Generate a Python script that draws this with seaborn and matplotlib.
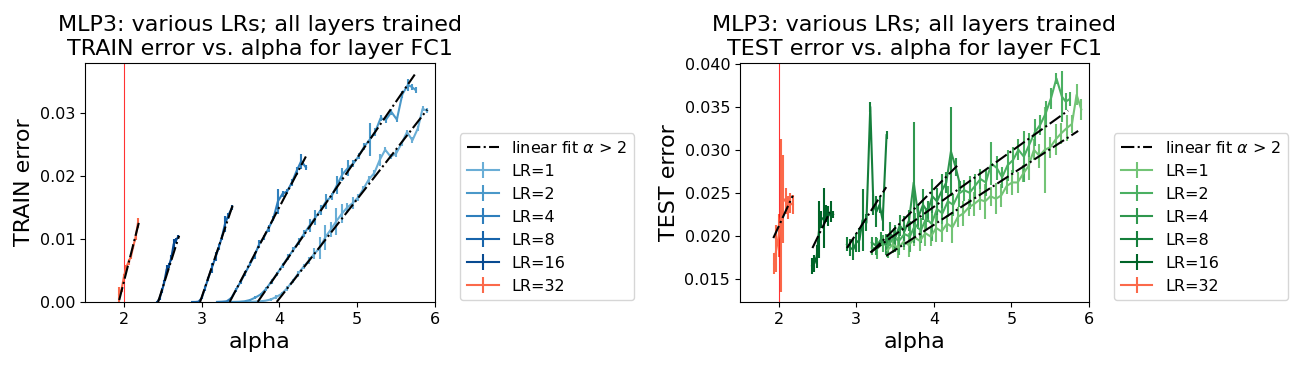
import numpy as np
import matplotlib
matplotlib.use("Agg")
import matplotlib.pyplot as plt
import seaborn as sns

# learning rates, one run per LR
lrs = [1, 2, 4, 8, 16, 32]

# alpha values (same runs in both panels)
alpha_lr1 = [3.40, 3.47, 3.54, 3.61, 3.68, 3.75, 3.82, 3.89,
             3.96, 4.03, 4.10, 4.17, 4.24, 4.31, 4.38, 4.45,
             4.52, 4.59, 4.66, 4.73, 4.80, 4.87, 4.94, 5.01,
             5.08, 5.15, 5.22, 5.29, 5.36, 5.43, 5.50, 5.57,
             5.64, 5.71, 5.78, 5.84, 5.90]
alpha_lr2 = [3.20, 3.27, 3.34, 3.41, 3.48, 3.55, 3.62, 3.69,
             3.76, 3.83, 3.90, 3.97, 4.04, 4.11, 4.18, 4.25,
             4.32, 4.39, 4.46, 4.53, 4.60, 4.67, 4.74, 4.81,
             4.88, 4.95, 5.02, 5.09, 5.16, 5.23, 5.30, 5.37,
             5.44, 5.51, 5.58, 5.65, 5.70, 5.75]
alpha_lr4 = [3.20, 3.26, 3.32, 3.38, 3.44, 3.50, 3.56, 3.62, 3.68, 3.74,
             3.80, 3.86, 3.92, 3.98, 4.04, 4.10, 4.16, 4.22, 4.28, 4.34]
alpha_lr8 = [2.88, 2.92, 2.96, 3.00, 3.04, 3.08, 3.13, 3.18, 3.22, 3.26,
             3.30, 3.34, 3.39]
alpha_lr16 = [2.43, 2.46, 2.49, 2.52, 2.55, 2.58, 2.61, 2.64, 2.67, 2.70]
alpha_lr32 = [1.94, 1.97, 2.00, 2.03, 2.06, 2.09, 2.12, 2.15, 2.18]

# TRAIN error (mean, std)
train_lr1 = [0.0, 0.0, 0.0, 0.00002, 0.00005, 0.0001, 0.0002, 0.0004,
             0.0008, 0.0013, 0.0022, 0.0033, 0.0045, 0.0056, 0.0066, 0.0077,
             0.0086, 0.0103, 0.0115, 0.0128, 0.0140, 0.0150, 0.0157, 0.0166,
             0.0180, 0.0195, 0.0205, 0.0226, 0.0242, 0.0231, 0.0236, 0.0252,
             0.0270, 0.0257, 0.0276, 0.0307, 0.0304]
train_err_lr1 = [0.0001, 0.0001, 0.0001, 0.0001, 0.0001, 0.0001, 0.0001, 0.0002,
                 0.0003, 0.0003, 0.0004, 0.0003, 0.0005, 0.0004, 0.0006, 0.0008,
                 0.0018, 0.0020, 0.0012, 0.0021, 0.0015, 0.0008, 0.0010, 0.0005,
                 0.0004, 0.0006, 0.0005, 0.0010, 0.0004, 0.0004, 0.0005, 0.0004,
                 0.0004, 0.0005, 0.0004, 0.0004, 0.0004]
train_lr2 = [0.0, 0.0, 0.0, 0.0, 0.00002, 0.0001, 0.0003, 0.0007,
             0.0012, 0.0021, 0.0033, 0.0045, 0.0058, 0.0071, 0.0083, 0.0096,
             0.0109, 0.0122, 0.0134, 0.0146, 0.0160, 0.0168, 0.0186, 0.0203,
             0.0213, 0.0220, 0.0232, 0.0247, 0.0258, 0.0270, 0.0292, 0.0290,
             0.0302, 0.0290, 0.0330, 0.0345, 0.0342, 0.0337]
train_err_lr2 = [0.0001, 0.0001, 0.0001, 0.0001, 0.0001, 0.0001, 0.0002, 0.0002,
                 0.0003, 0.0003, 0.0004, 0.0003, 0.0004, 0.0005, 0.0004, 0.0006,
                 0.0005, 0.0010, 0.0012, 0.0008, 0.0012, 0.0006, 0.0014, 0.0010,
                 0.0012, 0.0006, 0.0005, 0.0006, 0.0026, 0.0006, 0.0005, 0.0005,
                 0.0005, 0.0004, 0.0005, 0.0010, 0.0005, 0.0004]
train_lr4 = [0.0, 0.00003, 0.0001, 0.0006, 0.0019, 0.0032, 0.0046, 0.0060, 0.0074, 0.0092,
             0.0103, 0.0117, 0.0132, 0.0160, 0.0172, 0.0176, 0.0190, 0.0208, 0.0224, 0.0214]
train_err_lr4 = [0.0001, 0.0001, 0.0001, 0.0002, 0.0003, 0.0003, 0.0004, 0.0003, 0.0005, 0.0006,
                 0.0004, 0.0005, 0.0004, 0.0020, 0.0005, 0.0004, 0.0005, 0.0006, 0.0012, 0.0004]
train_lr8 = [0.0, 0.0, 0.00005, 0.0006, 0.0021, 0.0036, 0.0054, 0.0072, 0.0087, 0.0103,
             0.0124, 0.0137, 0.0150]
train_err_lr8 = [0.0001, 0.0001, 0.0001, 0.0002, 0.0004, 0.0003, 0.0008, 0.0007, 0.0005, 0.0004,
                 0.0013, 0.0005, 0.0004]
train_lr16 = [0.0, 0.0006, 0.0018, 0.0032, 0.0052, 0.0058, 0.0070, 0.0092, 0.0098, 0.0104]
train_err_lr16 = [0.0002, 0.0003, 0.0004, 0.0003, 0.0006, 0.0004, 0.0005, 0.0008, 0.0004, 0.0003]
train_lr32 = [0.0012, 0.0020, 0.0040, 0.0055, 0.0064, 0.0072, 0.0088, 0.0103, 0.0125]
train_err_lr32 = [0.0012, 0.0004, 0.0005, 0.0004, 0.0005, 0.0004, 0.0004, 0.0005, 0.0008]

# TEST error (mean, std)
test_lr1 = [0.0183, 0.0190, 0.0186, 0.0193, 0.0189, 0.0198, 0.0194, 0.0203,
            0.0199, 0.0209, 0.0205, 0.0214, 0.0210, 0.0222, 0.0226, 0.0233,
            0.0237, 0.0242, 0.0240, 0.0246, 0.0243, 0.0247, 0.0258, 0.0262,
            0.0262, 0.0272, 0.0281, 0.0300, 0.0293, 0.0300, 0.0303, 0.0312,
            0.0319, 0.0325, 0.0330, 0.0364, 0.0347]
test_err_lr1 = [0.0008, 0.0010, 0.0012, 0.0009, 0.0014, 0.0010, 0.0012, 0.0015,
                0.0011, 0.0016, 0.0012, 0.0010, 0.0018, 0.0012, 0.0015, 0.0010,
                0.0014, 0.0012, 0.0020, 0.0011, 0.0018, 0.0013, 0.0010, 0.0015,
                0.0012, 0.0010, 0.0016, 0.0012, 0.0014, 0.0050, 0.0012, 0.0018,
                0.0012, 0.0015, 0.0010, 0.0012, 0.0012]
test_lr2 = [0.0186, 0.0185, 0.0191, 0.0188, 0.0198, 0.0194, 0.0202, 0.0199,
            0.0213, 0.0206, 0.0220, 0.0214, 0.0231, 0.0226, 0.0240, 0.0236,
            0.0249, 0.0253, 0.0250, 0.0258, 0.0266, 0.0262, 0.0284, 0.0279,
            0.0268, 0.0282, 0.0288, 0.0300, 0.0292, 0.0306, 0.0320, 0.0329,
            0.0342, 0.0360, 0.0383, 0.0362, 0.0356, 0.0359]
test_err_lr2 = [0.0008, 0.0012, 0.0010, 0.0014, 0.0011, 0.0016, 0.0012, 0.0018,
                0.0013, 0.0015, 0.0012, 0.0020, 0.0014, 0.0012, 0.0018, 0.0013,
                0.0016, 0.0012, 0.0019, 0.0014, 0.0012, 0.0016, 0.0025, 0.0014,
                0.0012, 0.0018, 0.0015, 0.0012, 0.0030, 0.0014, 0.0016, 0.0012,
                0.0015, 0.0012, 0.0006, 0.0030, 0.0010, 0.0008]
test_lr4 = [0.0192, 0.0188, 0.0196, 0.0190, 0.0202, 0.0197, 0.0212, 0.0205, 0.0218, 0.0262,
            0.0222, 0.0236, 0.0228, 0.0246, 0.0240, 0.0252, 0.0262, 0.0298, 0.0280, 0.0258]
test_err_lr4 = [0.0006, 0.0010, 0.0008, 0.0012, 0.0014, 0.0016, 0.0012, 0.0018, 0.0012, 0.0070,
                0.0014, 0.0018, 0.0012, 0.0020, 0.0016, 0.0020, 0.0012, 0.0052, 0.0010, 0.0006]
test_lr8 = [0.0190, 0.0186, 0.0184, 0.0192, 0.0195, 0.0218, 0.0215, 0.0350, 0.0236, 0.0228,
            0.0236, 0.0218, 0.0317]
test_err_lr8 = [0.0008, 0.0010, 0.0012, 0.0011, 0.0014, 0.0036, 0.0010, 0.0006, 0.0012, 0.0018,
                0.0010, 0.0012, 0.0005]
test_lr16 = [0.0165, 0.0168, 0.0176, 0.0207, 0.0219, 0.0221, 0.0226, 0.0223, 0.0228, 0.0225]
test_err_lr16 = [0.0009, 0.0010, 0.0013, 0.0033, 0.0010, 0.0035, 0.0010, 0.0012, 0.0012, 0.0004]
test_lr32 = [0.0168, 0.0185, 0.0200, 0.0223, 0.0243, 0.0240, 0.0233, 0.0238, 0.0236]
test_err_lr32 = [0.0012, 0.0027, 0.0025, 0.0089, 0.0051, 0.0015, 0.0013, 0.0012, 0.0011]

# linear fits: start alpha, end alpha, value at start, slope
train_fit_lo = [3.965, 3.72, 3.36, 2.98, 2.44, 1.94]
train_fit_hi = [5.90, 5.74, 4.34, 3.40, 2.71, 2.20]
train_fit_y0 = [0.0, 0.0, 0.0, 0.0, 0.0, 0.0003]
train_fit_slope = [0.0158, 0.0179, 0.0236, 0.0367, 0.039, 0.0488]
test_fit_lo = [3.386, 3.18, 3.19, 2.88, 2.434, 1.93]
test_fit_hi = [5.86, 5.73, 4.30, 3.386, 2.657, 2.18]
test_fit_y0 = [0.01767, 0.01806, 0.01806, 0.01857, 0.01857, 0.01973]
test_fit_slope = [0.00587, 0.00647, 0.00908, 0.0140, 0.01857, 0.01968]

alphas = [alpha_lr1, alpha_lr2, alpha_lr4, alpha_lr8, alpha_lr16, alpha_lr32]
train = [train_lr1, train_lr2, train_lr4, train_lr8, train_lr16, train_lr32]
train_err = [train_err_lr1, train_err_lr2, train_err_lr4, train_err_lr8, train_err_lr16, train_err_lr32]
test = [test_lr1, test_lr2, test_lr4, test_lr8, test_lr16, test_lr32]
test_err = [test_err_lr1, test_err_lr2, test_err_lr4, test_err_lr8, test_err_lr16, test_err_lr32]

blues = sns.color_palette("Blues", as_cmap=True)
greens = sns.color_palette("Greens", as_cmap=True)
reds = sns.color_palette("Reds", as_cmap=True)
shades = [0.5, 0.6, 0.7, 0.8, 0.9]
train_colors = [blues(s) for s in shades] + [reds(0.5)]
test_colors = [greens(s) for s in shades] + [reds(0.5)]

fig = plt.figure(figsize=(13, 3.66), dpi=100)
ax1 = fig.add_axes([0.0654, 0.175, 0.2692, 0.653])
ax2 = fig.add_axes([0.5692, 0.175, 0.2685, 0.653])


def draw_panel(ax, ys, errs, colors, fit_lo, fit_hi, fit_y0, fit_slope, what, ylim):
    for i, lr in enumerate(lrs):
        xf = np.array([fit_lo[i], fit_hi[i]])
        yf = fit_y0[i] + fit_slope[i] * (xf - fit_lo[i])
        ax.plot(xf, yf, 'k-.', lw=1.5, zorder=3,
                label=r'linear fit $\alpha$ > 2' if i == 0 else None)
        ax.errorbar(alphas[i], ys[i], yerr=errs[i], color=colors[i], lw=1.5,
                    label=f'LR={lr}')
    ax.axvline(2, color='red', lw=0.8, alpha=0.8)
    ax.set_xlim(1.5, 6)
    ax.set_ylim(*ylim)
    ax.set_xticks([2, 3, 4, 5, 6])
    ax.tick_params(labelsize=11.5)
    ax.set_xlabel('alpha', fontsize=16)
    ax.set_ylabel(f'{what} error', fontsize=16)
    ax.set_title(f'MLP3: various LRs; all layers trained\n{what} error vs. alpha for layer FC1',
                 fontsize=16)
    ax.legend(loc='lower left', bbox_to_anchor=(1.072, 0.008), borderaxespad=0,
              fontsize=11.5)


draw_panel(ax1, train, train_err, train_colors, train_fit_lo, train_fit_hi,
           train_fit_y0, train_fit_slope, 'TRAIN', (0, 0.038))
draw_panel(ax2, test, test_err, test_colors, test_fit_lo, test_fit_hi,
           test_fit_y0, test_fit_slope, 'TEST', (0.0123, 0.0401))

plt.savefig('out.png', dpi=100)
